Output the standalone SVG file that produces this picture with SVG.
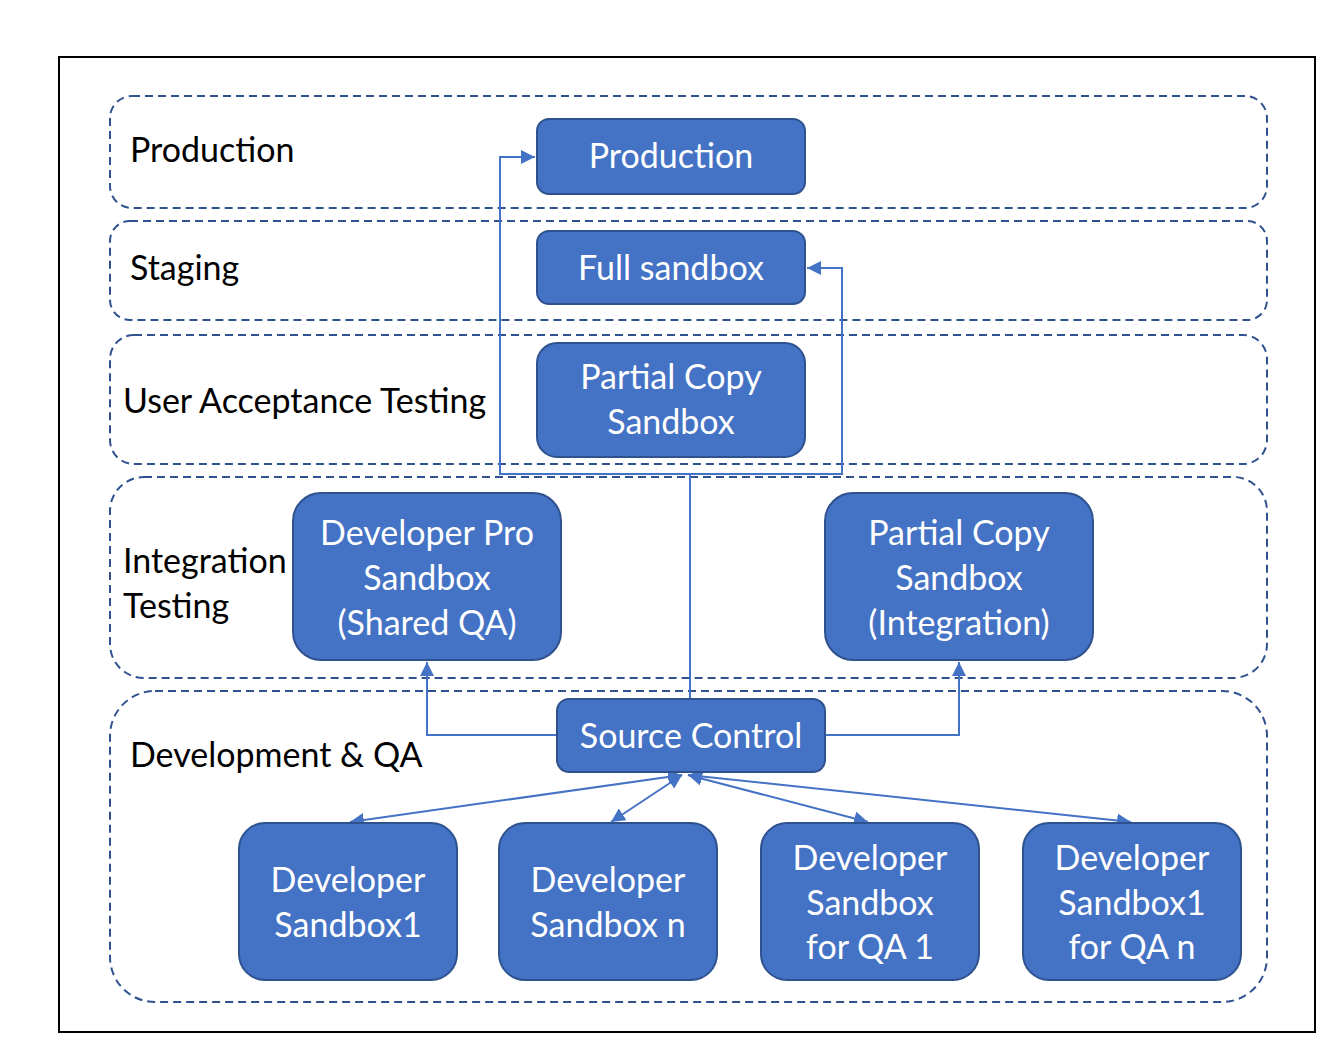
<svg xmlns="http://www.w3.org/2000/svg" width="1334" height="1054" viewBox="0 0 1334 1054">
<defs>
<marker id="ah" viewBox="0 0 10 10" refX="10" refY="5" markerWidth="7" markerHeight="7" markerUnits="strokeWidth" orient="auto-start-reverse">
<path d="M0,0 L10,5 L0,10 z" fill="#4472C4"/>
</marker>
<style>
.lane{fill:none;stroke:#2F528F;stroke-width:2;stroke-dasharray:8 5}
.node rect{fill:#4472C4;stroke:#2F528F;stroke-width:2}
.nt{fill:#fff;font-family:Lato,"Liberation Sans",sans-serif;font-size:34px;text-anchor:middle}
.lt{fill:#000;font-family:Lato,"Liberation Sans",sans-serif;font-size:34px}
.cn{fill:none;stroke:#4472C4;stroke-width:2}
</style>
</defs>
<rect x="0" y="0" width="1334" height="1054" fill="#fff"/>
<rect x="59" y="57" width="1256" height="975" fill="none" stroke="#000" stroke-width="2"/>
<g id="lanes">
<rect class="lane" x="110" y="96" width="1157" height="112" rx="22"/>
<rect class="lane" x="110" y="221" width="1157" height="99" rx="20"/>
<rect class="lane" x="110" y="335" width="1157" height="129" rx="24"/>
<rect class="lane" x="110" y="477" width="1157" height="201" rx="34"/>
<rect class="lane" x="110" y="691" width="1157" height="311" rx="45"/>
<text class="lt" x="130" y="162">Production</text>
<text class="lt" x="130" y="280">Staging</text>
<text class="lt" x="123" y="413">User Acceptance Testing</text>
<text class="lt" x="123" y="573">Integration</text>
<text class="lt" x="123" y="618">Testing</text>
<text class="lt" x="130" y="767">Development &amp; QA</text>
</g>
<g id="connectors">
<polyline class="cn" points="690,699 690,474 500,474 500,157 535,157" marker-end="url(#ah)"/>
<polyline class="cn" points="690,474 842,474 842,268 807,268" marker-end="url(#ah)"/>
<polyline class="cn" points="557,735 427,735 427,662" marker-end="url(#ah)"/>
<polyline class="cn" points="825,735 959,735 959,662" marker-end="url(#ah)"/>
<line class="cn" x1="682" y1="775" x2="350" y2="822" marker-start="url(#ah)" marker-end="url(#ah)"/>
<line class="cn" x1="682" y1="775" x2="611" y2="822" marker-start="url(#ah)" marker-end="url(#ah)"/>
<line class="cn" x1="688" y1="775" x2="868" y2="822" marker-start="url(#ah)" marker-end="url(#ah)"/>
<line class="cn" x1="688" y1="775" x2="1131" y2="822" marker-start="url(#ah)" marker-end="url(#ah)"/>
</g>
<g id="n-production" class="node"><rect x="537" y="119" width="268" height="75" rx="12"/><text class="nt" x="671" y="168">Production</text></g>
<g id="n-full" class="node"><rect x="537" y="231" width="268" height="73" rx="12"/><text class="nt" x="671" y="280">Full sandbox</text></g>
<g id="n-partial-uat" class="node"><rect x="537" y="343" width="268" height="114" rx="20"/><text class="nt" x="671" y="389">Partial Copy</text><text class="nt" x="671" y="434">Sandbox</text></g>
<g id="n-devpro" class="node"><rect x="293" y="493" width="268" height="167" rx="28"/><text class="nt" x="427" y="545">Developer Pro</text><text class="nt" x="427" y="590">Sandbox</text><text class="nt" x="427" y="635">(Shared QA)</text></g>
<g id="n-partial-int" class="node"><rect x="825" y="493" width="268" height="167" rx="28"/><text class="nt" x="959" y="545">Partial Copy</text><text class="nt" x="959" y="590">Sandbox</text><text class="nt" x="959" y="635">(Integration)</text></g>
<g id="n-source" class="node"><rect x="557" y="699" width="268" height="73" rx="12"/><text class="nt" x="691" y="748">Source Control</text></g>
<g id="n-dev1" class="node"><rect x="239" y="823" width="218" height="157" rx="26"/><text class="nt" x="348" y="892">Developer</text><text class="nt" x="348" y="937">Sandbox1</text></g>
<g id="n-devn" class="node"><rect x="499" y="823" width="218" height="157" rx="26"/><text class="nt" x="608" y="892">Developer</text><text class="nt" x="608" y="937">Sandbox n</text></g>
<g id="n-devqa1" class="node"><rect x="761" y="823" width="218" height="157" rx="26"/><text class="nt" x="870" y="870">Developer</text><text class="nt" x="870" y="915">Sandbox</text><text class="nt" x="870" y="959">for QA 1</text></g>
<g id="n-devqan" class="node"><rect x="1023" y="823" width="218" height="157" rx="26"/><text class="nt" x="1132" y="870">Developer</text><text class="nt" x="1132" y="915">Sandbox1</text><text class="nt" x="1132" y="959">for QA n</text></g>
</svg>
